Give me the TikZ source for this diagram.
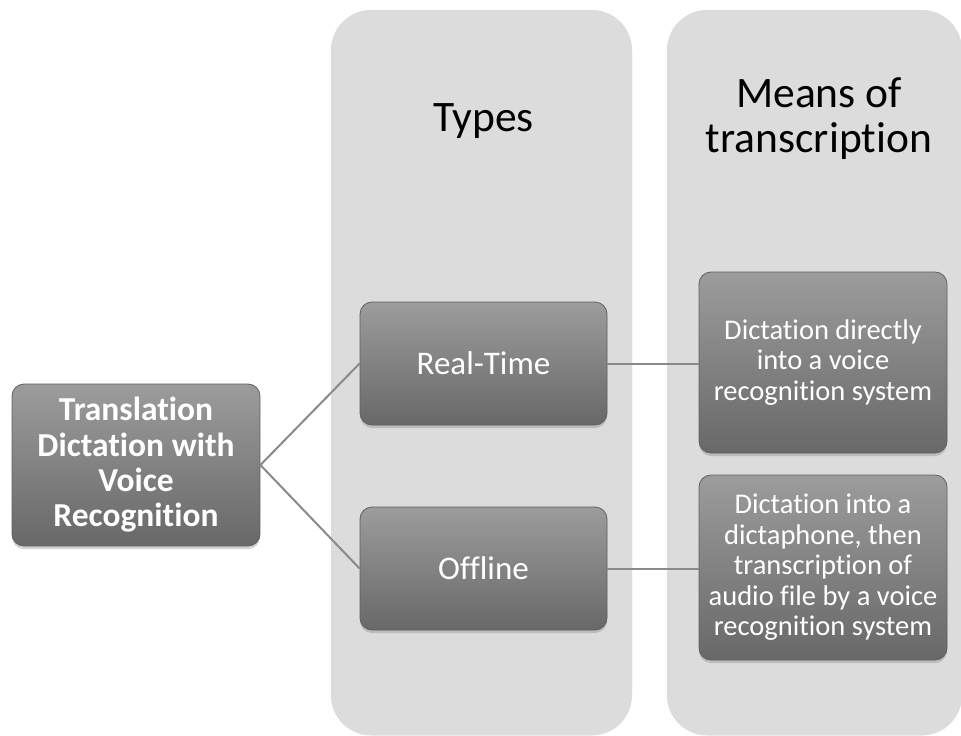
\documentclass[tikz,border=0pt]{standalone}
\usepackage{fontspec}
\setmainfont{Carlito}[Ligatures={CommonOff,ContextualOff}]
\usetikzlibrary{shadows}
\definecolor{panelgray}{HTML}{DCDCDC}
\definecolor{boxtop}{HTML}{9C9C9C}
\definecolor{boxbot}{HTML}{686868}
\definecolor{boxedge}{HTML}{606060}
\definecolor{linkgray}{HTML}{8A8A8A}
\begin{document}
\begin{tikzpicture}[x=1pt,y=-1pt,
  panel/.style={fill=panelgray, rounded corners=40pt,
    drop shadow={opacity=0.25, shadow xshift=0pt, shadow yshift=-1.5pt}},
  box/.style={draw=boxedge, line width=0.8pt, rounded corners=12pt,
    top color=boxtop, bottom color=boxbot, text=white, align=center,
    inner sep=0pt,
    drop shadow={opacity=0.35, shadow xshift=0pt, shadow yshift=-3pt}},
  header/.style={text=black, align=center, anchor=base,
    font=\fontsize{43.5}{45}\selectfont},
  link/.style={draw=linkgray, line width=2pt}]
\useasboundingbox (0,0) rectangle (961,736);

% column panels
\path[panel] (331,10) rectangle (632,734);
\path[panel] (667,10) rectangle (962,734);

% column headings (placed by the baseline of the last line)
\node[header] (htypes) at (483.5,131) {Types};
\node[header] (hmeans) at (819,152) {Means of\\transcription};

% root
\node[box, minimum width=248pt, minimum height=162pt,
  font=\bfseries\fontsize{33.5}{35.3}\selectfont] (root) at (136,465)
  {Translation\\Dictation with\\Voice\\Recognition};

% types
\node[box, minimum width=247pt, minimum height=123pt,
  font=\fontsize{33}{36}\selectfont] (rt) at (483.5,363.5) {Real-Time};
\node[box, minimum width=247pt, minimum height=123pt,
  font=\fontsize{33}{36}\selectfont] (off) at (483.5,568.5) {Offline};

% means of transcription
\node[box, minimum width=248pt, minimum height=181pt,
  font=\fontsize{28.5}{30.5}\selectfont] (m1) at (823,362.5)
  {Dictation directly\\into a voice\\recognition system};
\node[box, minimum width=248pt, minimum height=185pt,
  font=\fontsize{28.5}{30.5}\selectfont] (m2) at (823,567.5)
  {Dictation into a\\dictaphone, then\\transcription of\\audio file by a voice\\recognition system};

% connectors
\draw[link] (root.east) -- (rt.west);
\draw[link] (root.east) -- (off.west);
\draw[link] (rt.east) -- (m1.west |- rt.east);
\draw[link] (off.east) -- (m2.west |- off.east);
\end{tikzpicture}
\end{document}
